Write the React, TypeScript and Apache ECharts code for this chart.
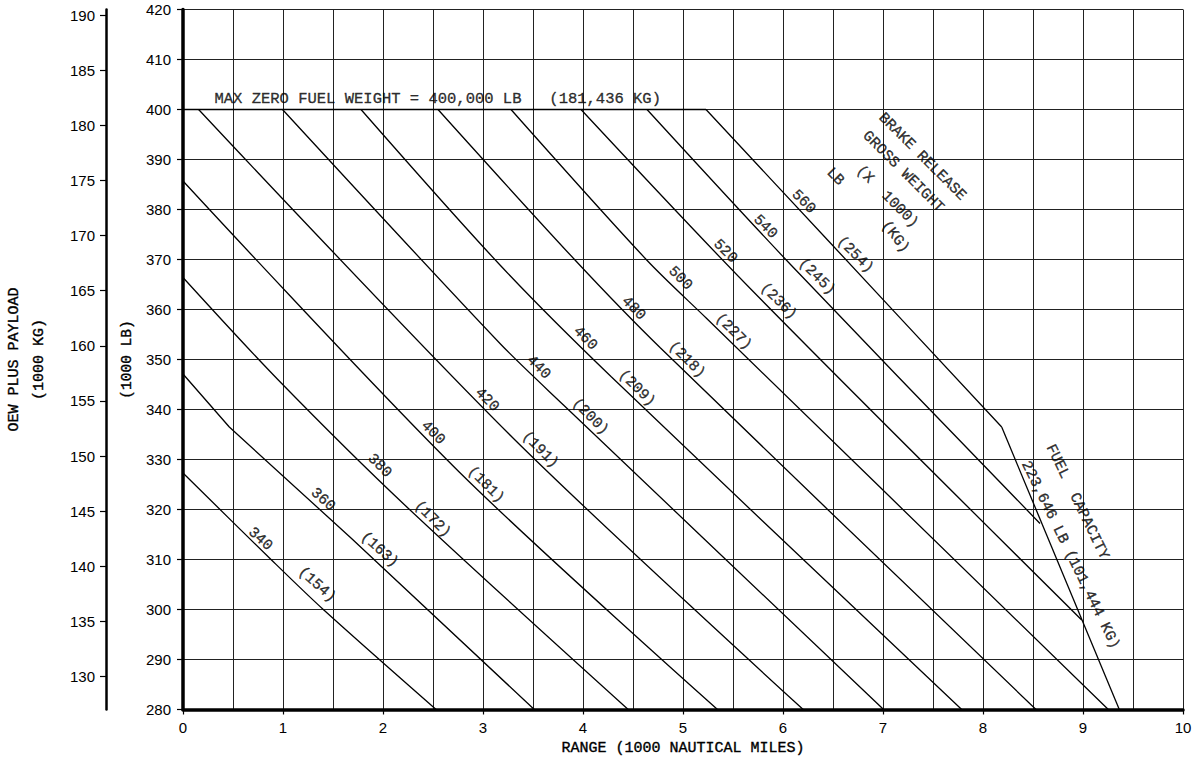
import React, { useEffect, useRef } from "react";
import * as echarts from "echarts";

// Brake release gross weight lines (1000 LB) and their KG equivalents
const brgwLb = [340, 360, 380, 400, 420, 440, 460, 480, 500, 520, 540, 560];
const brgwKg = [154, 163, 172, 181, 191, 200, 209, 218, 227, 236, 245, 254];

// Points: [range (1000 nm), OEW + payload (1000 lb)]
const brgwLines: number[][][] = [
  [[0, 327.3], [0.88, 310], [1.403, 300], [2.531, 280]],
  [[0, 347.1], [0.463, 336.5], [1.68, 314.3], [3.513, 280]],
  [[0, 366.4], [0.953, 345.9], [2.228, 320.7], [4.452, 280]],
  [[0, 385.7], [2.762, 327.5], [5.345, 280]],
  [[0.156, 400], [3.3, 334.3], [6.202, 280]],
  [[0.995, 400], [3.17, 353.2], [3.81, 340.8], [7.006, 280]],
  [[1.78, 400], [3.17, 368.9], [4.28, 346.6], [7.787, 280]],
  [[2.55, 400], [3.92, 369.9], [4.77, 352.4], [8.53, 280]],
  [[3.28, 400], [4.637, 369.9], [5.237, 358.2], [9.253, 280]],
  [[3.98, 400], [5.687, 363.9], [8.987, 297.9]],
  [[4.64, 400], [6.08, 368.9], [8.57, 317.2]],
  [[5.23, 400], [6.46, 373.6], [8.187, 336.5]],
];
// The 360 line has a sharp corner near the left axis
const cornerLines = [360];

// Max zero fuel weight limit and fuel capacity limit
const mzfwLine = [[0, 400], [5.23, 400]];
const fuelCapacityLine = [[8.187, 336.5], [9.363, 280]];

// Label anchor points along the lines
const lbLabelRange = [0.77, 1.397, 1.963, 2.497, 3.037, 3.553, 4.02, 4.503, 4.97, 5.42, 5.82, 6.203];
const lbLabelWeight = [314.0, 321.9, 328.7, 335.3, 341.9, 348.4, 354.2, 360.2, 366.2, 371.6, 376.5, 381.5];
const kgLabelRange = [1.337, 1.963, 2.493, 3.027, 3.57, 4.07, 4.537, 5.037, 5.503, 5.953, 6.337, 6.72];
const kgLabelWeight = [304.9, 311.9, 318.0, 324.9, 331.9, 338.5, 344.2, 349.9, 355.5, 361.6, 366.5, 370.9];

// Free annotations: [range, weight, text, rotation]
const annotations: [number, number, string, number][] = [
  [6.52, 386.5, "LB", -45],
  [7.04, 382.5, "(X  1000)", -45],
  [7.12, 374.5, "(KG)", -52],
  [7.2, 387.5, "GROSS WEIGHT", -45],
  [7.39, 390.5, "BRAKE RELEASE", -45],
  [8.94, 321.5, "FUEL  CAPACITY", -64],
  [8.87, 310.9, "223,646 LB (101,444 KG)", -64],
];
const mzfwText = "MAX ZERO FUEL WEIGHT = 400,000 LB   (181,436 KG)";
const mzfwTextPos = [0.31, 402.2];

// Axis ticks
const rangeTicks = [0, 1, 2, 3, 4, 5, 6, 7, 8, 9, 10];
const kgTicks = [130, 135, 140, 145, 150, 155, 160, 165, 170, 175, 180, 185, 190];
const LB_PER_KG = 2.20462;
const lbMin = 280;
const lbMax = 420;

const MONO = "'Liberation Mono', 'DejaVu Sans Mono', monospace";
const SANS = "'Liberation Sans', Arial, sans-serif";
const boldish = { textBorderColor: "#000", textBorderWidth: 0.35 };

export default function App() {
  const ref = useRef<HTMLDivElement>(null);

  useEffect(() => {
    if (!ref.current) return;
    const chart = echarts.init(ref.current, null, { renderer: "svg" });

    const lineSeries = brgwLines.map((pts, i) => ({
      type: "line",
      name: String(brgwLb[i]),
      data: pts,
      symbol: "none",
      silent: true,
      smooth: cornerLines.includes(brgwLb[i]) ? false : 0.3,
      lineStyle: { color: "#000", width: 1.3 },
      z: 5,
    }));

    const labelItems: any[] = [];
    brgwLb.forEach((w, i) => {
      labelItems.push({
        value: [lbLabelRange[i], lbLabelWeight[i]],
        label: { formatter: String(w), rotate: i < 2 ? -42 : -45 },
      });
      labelItems.push({
        value: [kgLabelRange[i], kgLabelWeight[i]],
        label: { formatter: "(" + brgwKg[i] + ")", rotate: i < 2 ? -42 : -45 },
      });
    });
    annotations.forEach(([x, y, t, r]) => {
      labelItems.push({ value: [x, y], label: { formatter: t, rotate: r } });
    });

    const option: any = {
      animation: false,
      backgroundColor: "#fff",
      grid: { left: 183, top: 9.5, width: 1000, height: 700, containLabel: false, outerBoundsMode: "none" },
      xAxis: {
        type: "value",
        min: 0,
        max: 10,
        interval: 1,
        name: "RANGE (1000 NAUTICAL MILES)",
        nameLocation: "middle",
        nameGap: 31,
        nameTextStyle: { fontFamily: MONO, fontSize: 15, color: "#000", ...boldish },
        axisLine: { onZero: false, lineStyle: { color: "#000", width: 3.5 } },
        axisTick: { show: true, length: 5, lineStyle: { color: "#000", width: 1.2 }, customValues: rangeTicks },
        axisLabel: { fontFamily: SANS, fontSize: 15, color: "#000", margin: 10, customValues: rangeTicks },
        splitLine: { show: true, lineStyle: { color: "#222", width: 1 } },
        minorTick: { show: false, splitNumber: 2 },
        minorSplitLine: { show: true, lineStyle: { color: "#222", width: 1 } },
      },
      yAxis: [
        {
          type: "value",
          min: lbMin,
          max: lbMax,
          interval: 10,
          position: "left",
          name: "(1000 LB)",
          nameLocation: "middle",
          nameGap: 48,
          nameTextStyle: { fontFamily: MONO, fontSize: 14.5, color: "#000", ...boldish },
          axisLine: { show: true, onZero: false, lineStyle: { color: "#000", width: 3.5 } },
          axisTick: { show: true, length: 6, lineStyle: { color: "#000", width: 1.2 } },
          axisLabel: { fontFamily: SANS, fontSize: 15, color: "#000", margin: 12 },
          splitLine: { show: true, lineStyle: { color: "#222", width: 1 } },
        },
        {
          type: "value",
          min: lbMin / LB_PER_KG,
          max: lbMax / LB_PER_KG,
          position: "left",
          offset: 77,
          name: "OEW PLUS PAYLOAD\n(1000 KG)",
          nameLocation: "middle",
          nameGap: 54,
          nameTextStyle: { fontFamily: MONO, fontSize: 15, color: "#000", lineHeight: 25, align: "center", ...boldish },
          axisLine: { show: true, onZero: false, lineStyle: { color: "#000", width: 2.5 } },
          axisTick: { show: true, length: 6, lineStyle: { color: "#000", width: 1.2 }, customValues: kgTicks },
          axisLabel: { fontFamily: SANS, fontSize: 15, color: "#000", margin: 11, customValues: kgTicks },
          splitLine: { show: false },
        },
      ],
      series: [
        ...lineSeries,
        {
          type: "line",
          name: "MZFW",
          data: mzfwLine,
          symbol: "none",
          silent: true,
          lineStyle: { color: "#000", width: 1.6 },
          z: 5,
        },
        {
          type: "line",
          name: "Fuel capacity",
          data: fuelCapacityLine,
          symbol: "none",
          silent: true,
          lineStyle: { color: "#000", width: 1.3 },
          z: 5,
        },
        {
          type: "scatter",
          name: "labels",
          data: labelItems,
          symbolSize: 1,
          silent: true,
          itemStyle: { color: "rgba(0,0,0,0)" },
          label: {
            show: true,
            position: "inside",
            fontFamily: MONO,
            fontSize: 15,
            color: "#000",
            align: "center",
            verticalAlign: "middle",
            ...boldish,
          },
          labelLayout: { hideOverlap: false },
          z: 10,
        },
        {
          type: "scatter",
          name: "mzfw label",
          data: [{ value: mzfwTextPos, label: { formatter: mzfwText } }],
          symbolSize: 1,
          silent: true,
          itemStyle: { color: "rgba(0,0,0,0)" },
          label: {
            show: true,
            position: "right",
            distance: 0,
            fontFamily: MONO,
            fontSize: 15.5,
            color: "#000",
            ...boldish,
          },
          z: 10,
        },
      ],
    };

    chart.setOption(option);
    return () => chart.dispose();
  }, []);

  return (
    <div
      ref={ref}
      style={{ position: "fixed", left: 0, top: 0, width: 1193, height: 759, background: "#fff" }}
    />
  );
}
